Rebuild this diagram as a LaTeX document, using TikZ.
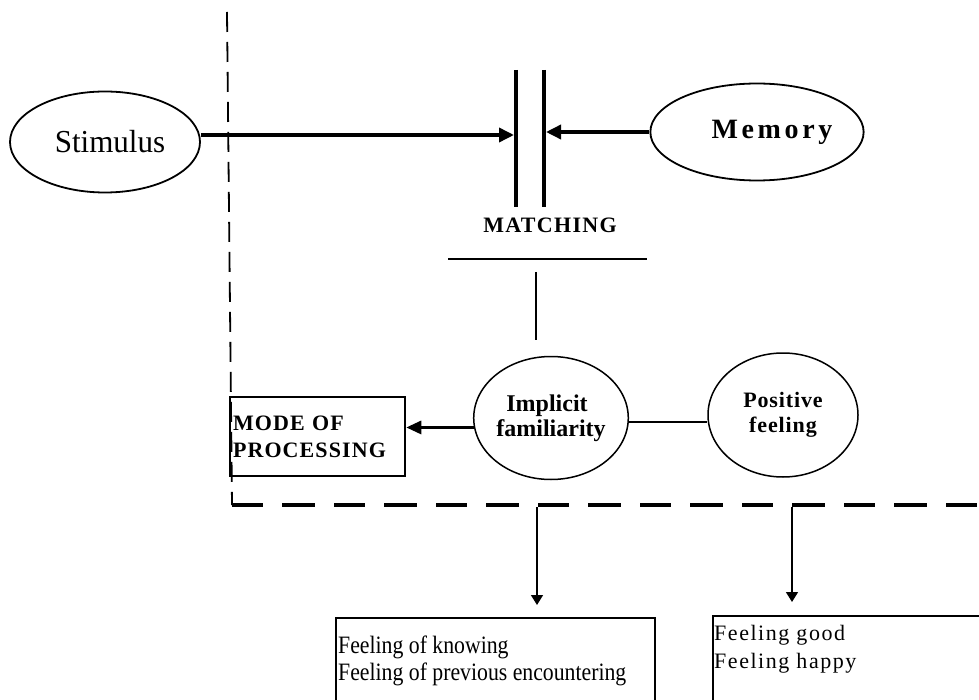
\documentclass[tikz,border=0pt]{standalone}
\usepackage{fontspec}
\setmainfont{Liberation Serif}
\usetikzlibrary{arrows.meta,shapes.geometric}
\begin{document}
\begin{tikzpicture}[x=1pt,y=-1pt,
  oval/.style={draw, ellipse, line width=1.8pt, inner sep=0pt},
  circ/.style={draw, ellipse, line width=1.5pt, inner sep=0pt, align=center},
  bigarrow/.style={line width=3.5pt, -{Triangle[length=15pt,width=14pt]}},
  modearrow/.style={line width=3pt, -{Triangle[length=15pt,width=13pt]}},
  downarrow/.style={line width=1.5pt, -{Triangle[length=10pt,width=12pt]}},
  barline/.style={line width=4pt},
  thinline/.style={line width=1.2pt},
  vdash/.style={line width=1.8pt, dash pattern=on 20pt off 10pt},
  hdash/.style={line width=3.5pt, dash pattern=on 31pt off 19pt on 33pt off 19pt},
  fbox/.style={draw, line width=1.5pt, anchor=north west, inner sep=0pt},
  ftext/.style={anchor=north west, inner sep=0pt, align=left}
]
\useasboundingbox (0,0) rectangle (979,700);
\fill[white] (0,0) rectangle (979,700);

% dashed frame
\coordinate (ftop) at (227,12);
\coordinate (fcorner) at (232,505);
\coordinate (fright) at (985,505);
\draw[vdash] (ftop) -- (fcorner);
\draw[hdash] (fcorner) -- (fright);

% ovals
\node[oval, minimum width=190pt, minimum height=101pt,
      font=\fontsize{32}{36}\selectfont\addfontfeatures{FakeStretch=0.97}] (stim) at (105,142) {\hspace*{10pt}Stimulus};
\node[oval, minimum width=194pt, minimum height=97pt,
      font=\fontsize{28}{32}\selectfont\bfseries\addfontfeatures{LetterSpace=13}] (mem) at (757,132) {\hspace*{30pt}Memory};

% matching bars
\coordinate (barLtop) at (516,70);
\coordinate (barLbot) at (516,207);
\coordinate (barRtop) at (544,70);
\coordinate (barRbot) at (544,207);
\coordinate (barLhit) at (514,135);
\coordinate (barRhit) at (546,132);
\draw[barline] (barLtop) -- (barLbot);
\draw[barline] (barRtop) -- (barRbot);
\draw[bigarrow] (stim.east |- barLhit) -- (barLhit);
\draw[bigarrow] (mem.west) -- (barRhit);

\node[font=\fontsize{22}{26}\selectfont\bfseries\addfontfeatures{LetterSpace=6}] (match) at (550,225) {MATCHING};
\coordinate (mlL) at (448,259);
\coordinate (mlR) at (647,259);
\draw[thinline] (mlL) -- (mlR);
\coordinate (vt) at (536,272);
\coordinate (vb) at (536,340);
\draw[thinline] (vt) -- (vb);

% circles
\node[circ, minimum width=147pt, minimum height=123pt,
      font=\fontsize{24}{25}\selectfont\bfseries] (impl) at (551,418) {Implicit\hspace*{8pt}\\familiarity};
\node[circ, minimum width=150pt, minimum height=124pt,
      font=\fontsize{22}{25}\selectfont\bfseries\addfontfeatures{LetterSpace=4}] (pos) at (783,415) {Positive\\feeling};
\draw[thinline] (impl.-3) -- (impl.-3 -| pos.west);

% mode of processing
\node[draw, line width=2.5pt, minimum width=175pt, minimum height=79pt,
      text width=169pt, inner xsep=3pt, align=left,
      font=\fontsize{22}{27}\selectfont\bfseries\addfontfeatures{LetterSpace=5}] (mode) at (317.5,436.5) {MODE OF\\PROCESSING};
\draw[modearrow] (impl.187) -- (impl.187 -| mode.east);

% bottom boxes
\node[fbox, minimum width=319pt, minimum height=110pt] (fk) at (335,617) {};
\node[fbox, minimum width=280pt, minimum height=110pt] (fg) at (712,615) {};
\node[ftext, font=\fontsize{25}{27}\selectfont\addfontfeatures{FakeStretch=0.87}] (fkt) at ([shift={(3,19)}]fk.north west)
  {Feeling of knowing\\Feeling of previous encountering};
\node[ftext, font=\fontsize{22}{28}\selectfont\addfontfeatures{LetterSpace=7}] (fgt) at ([shift={(2,10)}]fg.north west)
  {Feeling good\\Feeling happy};

\coordinate (d1) at (537,507);
\coordinate (d2) at (792,507);
\draw[downarrow, shorten >=12pt] (d1) -- (d1 |- fk.north);
\draw[downarrow, shorten >=13pt] (d2) -- (d2 |- fg.north);
\end{tikzpicture}
\end{document}
